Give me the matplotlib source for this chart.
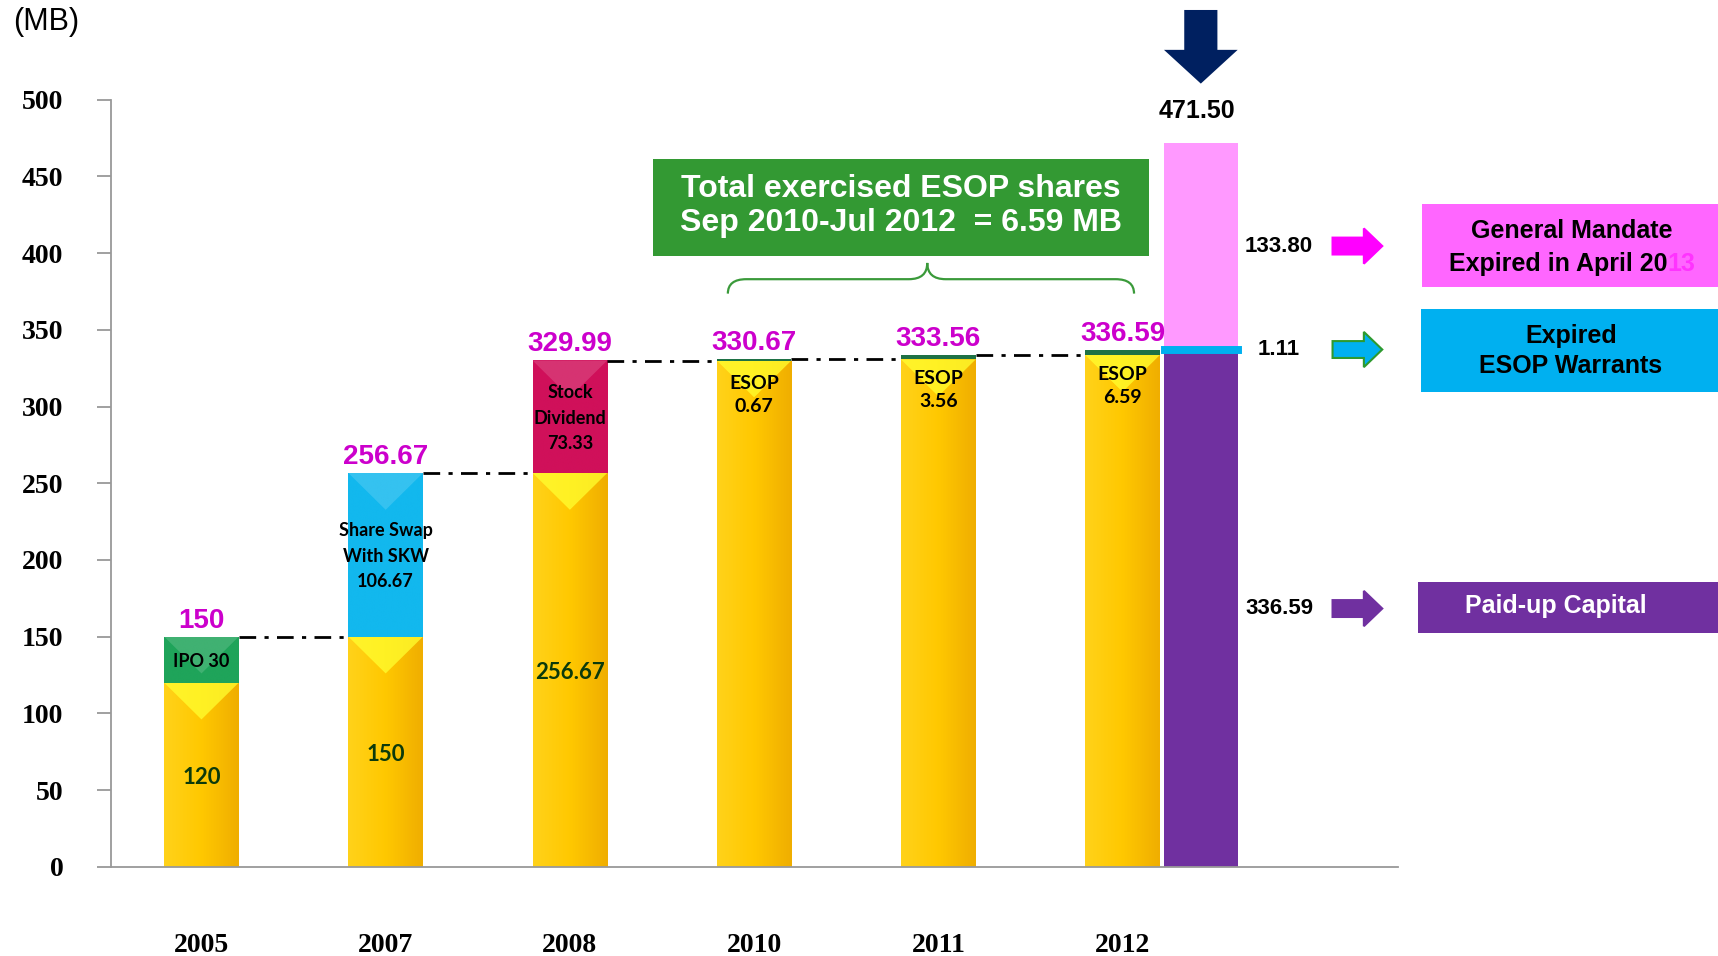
import numpy as np
import matplotlib
matplotlib.use('Agg')
import matplotlib.pyplot as plt
from matplotlib.patches import Polygon, Rectangle, PathPatch
from matplotlib.path import Path
from matplotlib.colors import LinearSegmentedColormap
from matplotlib import font_manager

# --- data ---
years = ['2005', '2007', '2008', '2010', '2011', '2012']
base_vals = [120, 150, 256.67, 329.99, 330.67, 333.56]
added_vals = [30, 106.67, 73.33, 0.68, 2.89, 3.03]
totals = [150, 256.67, 329.99, 330.67, 333.56, 336.59]
total_labels = ['150', '256.67', '329.99', '330.67', '333.56', '336.59']
base_labels = ['120', '150', '256.67', 'ESOP\n0.67', 'ESOP\n3.56', 'ESOP\n6.59']
added_labels = ['IPO 30', 'Share Swap\nWith SKW\n106.67', 'Stock\nDividend\n73.33', '', '', '']
added_colors = ['#1FA45A', '#12B8EE', '#D0105A', '#1E7145', '#1E7145', '#1E7145']

proj_vals = [336.59, 1.11, 133.80]
proj_labels = ['336.59', '1.11', '133.80']
proj_colors = ['#7030A0', '#00B0F0', '#FF99FF']
proj_total = 471.50

# --- fonts ---
names = {f.name for f in font_manager.fontManager.ttflist}
sans = 'Liberation Sans' if 'Liberation Sans' in names else 'DejaVu Sans'
serif = 'Liberation Serif' if 'Liberation Serif' in names else 'DejaVu Serif'
bar_font = 'Lato' if 'Lato' in names else sans

W, H = 1718, 956
fig = plt.figure(figsize=(W / 100, H / 100), dpi=100)
ax = fig.add_axes([0.0644, 0.0934, 0.7493, 0.8023])

w = 0.405
x = np.arange(len(years))
yellow = ['#FFD21A', '#FFC800', '#F0AE00']


def shade(patch, colors, bevel):
    x0, y0 = patch.get_x(), patch.get_y()
    pw, ph = patch.get_width(), patch.get_height()
    cmap = LinearSegmentedColormap.from_list('g', colors)
    im = ax.imshow(np.linspace(0, 1, 64).reshape(1, -1), cmap=cmap,
                   extent=(x0, x0 + pw, y0, y0 + ph), aspect='auto',
                   interpolation='bicubic', zorder=2.1)
    im.set_clip_path(patch)
    top = y0 + ph
    tri = Polygon([(x0, top), (x0 + pw, top), (x0 + pw / 2, top - 24)],
                  closed=True, facecolor=bevel[0], alpha=bevel[1],
                  edgecolor='none', zorder=2.2)
    ax.add_patch(tri)
    tri.set_clip_path(patch)


base_bars = ax.bar(x, base_vals, width=w, color=yellow[1], edgecolor='none', zorder=2)
for p in base_bars:
    shade(p, yellow, ('#FFFF30', 0.75))

add_bars = ax.bar(x, added_vals, width=w, bottom=base_vals, color=added_colors,
                  edgecolor='none', zorder=2)
for p, c in zip(add_bars[:3], added_colors[:3]):
    shade(p, [c, c, c], ('white', 0.15))

# connector lines
for i in range(len(years) - 1):
    ax.plot([x[i] + w / 2, x[i + 1] - w / 2], [totals[i], totals[i]],
            color='black', lw=2, linestyle=(0, (6, 3, 1.5, 3)), zorder=3)

# labels
for i in range(len(years)):
    ax.text(x[i], totals[i] + 2, total_labels[i], ha='center', va='bottom',
            color='#CC00CC', fontsize=20, fontweight='bold', family=sans, zorder=5)
    if i < 3:
        ax.text(x[i], base_vals[i] / 2 - 2, base_labels[i], ha='center', va='center',
                color='#0B3A0B', fontsize=16, fontweight='bold', family=bar_font, zorder=5)
        ax.text(x[i], base_vals[i] + added_vals[i] / 2 - 1, added_labels[i], ha='center',
                va='center', color='black', fontsize=13, fontweight='bold',
                family=bar_font, linespacing=1.6, zorder=5)
    else:
        ax.text(x[i], totals[i] - 23, base_labels[i], ha='center', va='center',
                color='black', fontsize=14, fontweight='bold', family=bar_font,
                linespacing=1.45, zorder=5)

# projected bar
xp = x[-1] + w + 0.02
bottom = 0
for v, c in zip(proj_vals, proj_colors):
    lw = 5 if v < 5 else 0
    ax.bar(xp, v, width=w, bottom=bottom, color=c, edgecolor=c, linewidth=lw,
           zorder=2.5 if v < 5 else 2)
    bottom += v

ax.text(xp - 0.02, proj_total + 13, '%.2f' % proj_total, ha='center', va='bottom',
        fontsize=18, fontweight='bold', family=sans, clip_on=False)

tip = proj_total + 39
arrow = Polygon([(xp, tip), (xp - 0.2, tip + 22), (xp - 0.09, tip + 22),
                 (xp - 0.09, tip + 48), (xp + 0.09, tip + 48), (xp + 0.09, tip + 22),
                 (xp + 0.2, tip + 22)], closed=True, facecolor='#002060',
                edgecolor='none', clip_on=False, zorder=4)
ax.add_patch(arrow)

# side labels and block arrows
arrow_fc = ['#7030A0', '#00B0F0', '#FF00FF']
arrow_ec = ['#7030A0', '#2E9A2E', '#FF00FF']
bottom = 0
for v, lab, fc, ec in zip(proj_vals, proj_labels, arrow_fc, arrow_ec):
    ym = bottom + v / 2
    bottom += v
    ax.text(5.85, ym, lab, ha='center', va='center', fontsize=16,
            fontweight='bold', family=sans, clip_on=False)
    x0, x1, xh = 6.14, 6.41, 6.31
    pts = [(x0, ym - 5.5), (xh, ym - 5.5), (xh, ym - 11.5), (x1, ym),
           (xh, ym + 11.5), (xh, ym + 5.5), (x0, ym + 5.5)]
    ax.add_patch(Polygon(pts, closed=True, facecolor=fc, edgecolor=ec,
                         lw=1.5, clip_on=False, zorder=4))

# brace under the ESOP box
bx0, bx1 = x[3] - w / 2 + 0.06, x[5] + w / 2 - 0.14
bm = (bx0 + bx1) / 2 - 0.02
yb, yf, yt = 373.6, 383, 393.6
verts = [(bx0, yb), (bx0, yf), (bx0 + 0.1, yf), (bm - 0.1, yf), (bm, yf), (bm, yt),
         (bm, yf), (bm + 0.1, yf), (bx1 - 0.1, yf), (bx1, yf), (bx1, yb)]
codes = [Path.MOVETO, Path.CURVE3, Path.CURVE3, Path.LINETO, Path.CURVE3, Path.CURVE3,
         Path.CURVE3, Path.CURVE3, Path.LINETO, Path.CURVE3, Path.CURVE3]
ax.add_patch(PathPatch(Path(verts, codes), facecolor='none', edgecolor='#3A9A3A',
                       lw=1.6, zorder=3))

# axes styling
ax.set_xlim(-0.493, 6.495)
ax.set_ylim(0, 500)
ax.set_yticks(range(0, 501, 50))
ax.set_xticks(x)
ax.set_xticklabels(years)
for s in ['top', 'right']:
    ax.spines[s].set_visible(False)
for s in ['left', 'bottom']:
    ax.spines[s].set_color('#999999')
    ax.spines[s].set_linewidth(1.3)
ax.tick_params(axis='y', length=10, color='#999999', width=1.3, pad=24)
ax.tick_params(axis='x', length=0, pad=48)
for t in ax.get_yticklabels() + ax.get_xticklabels():
    t.set_family(serif)
    t.set_fontweight('bold')
    t.set_fontsize(20)

fig.text(13 / W, 1 - 22 / H, '(MB)', ha='left', va='center', fontsize=22, family=sans)

# green ESOP box
fig.patches.append(Rectangle((653 / W, 1 - 256 / H), 496 / W, 97 / H,
                             transform=fig.transFigure, facecolor='#339933',
                             edgecolor='none'))
fig.text(901 / W, 1 - 206 / H, 'Total exercised ESOP shares\nSep 2010-Jul 2012  = 6.59 MB',
         ha='center', va='center', color='white', fontsize=23, fontweight='bold',
         family=sans, linespacing=1.2)

# right side boxes
fig.patches.append(Rectangle((1422 / W, 1 - 287 / H), 296 / W, 83 / H,
                             transform=fig.transFigure, facecolor='#FF66FF', edgecolor='none'))
fig.patches.append(Rectangle((1421 / W, 1 - 392 / H), 297 / W, 83 / H,
                             transform=fig.transFigure, facecolor='#00B0F0', edgecolor='none'))
fig.patches.append(Rectangle((1418 / W, 1 - 633 / H), 300 / W, 51 / H,
                             transform=fig.transFigure, facecolor='#7030A0', edgecolor='none'))

box_kw = dict(fontsize=18, fontweight='bold', family=sans, va='center')
fig.text(1572 / W, 1 - 231 / H, 'General Mandate', ha='center', **box_kw)
r = fig.canvas.get_renderer()
full = fig.text(0, 0, 'Expired in April 2013', **box_kw)
fw = full.get_window_extent(r).width
full.remove()
left = 1572 - fw / 2
p1 = fig.text(left / W, 1 - 264 / H, 'Expired in April 20', ha='left', **box_kw)
pw = p1.get_window_extent(r).width
fig.text((left + pw) / W, 1 - 264 / H, '13', ha='left', color='#FF33FF', **box_kw)

fig.text(1571 / W, 1 - 336 / H, 'Expired', ha='center', **box_kw)
fig.text(1571 / W, 1 - 366 / H, 'ESOP Warrants', ha='center', **box_kw)
fig.text(1556 / W, 1 - 606 / H, 'Paid-up Capital', ha='center', color='white', **box_kw)

fig.savefig('out.png', dpi=100)
